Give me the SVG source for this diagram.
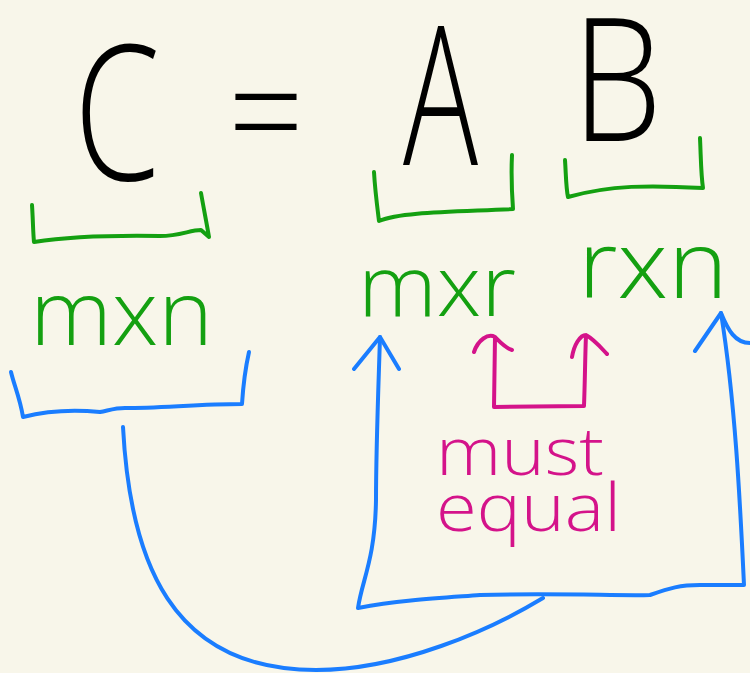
<svg xmlns="http://www.w3.org/2000/svg" width="750" height="673" viewBox="0 0 750 673">
<style>
.t{font-family:"Open Sans",Inter,"Liberation Sans",sans-serif;font-weight:300}
.k{fill:#000}
.g{fill:#14a011}
.m{fill:#d4138a}
.s{fill:none;stroke-width:4;stroke-linecap:round;stroke-linejoin:round}
.gs{stroke:#14a011}
.bs{stroke:#1a7dff}
.ms{stroke:#d4138a}
</style>
<rect width="750" height="673" fill="#f8f6ea"/>
<g id="equation">
<text class="t k" x="74" y="180" font-size="189" textLength="86" lengthAdjust="spacingAndGlyphs">C</text>
<text class="t k" x="228" y="165" font-size="150" textLength="76" lengthAdjust="spacingAndGlyphs">=</text>
<text class="t k" x="403" y="165" font-size="193" textLength="75" lengthAdjust="spacingAndGlyphs">A</text>
<text class="t k" x="572" y="141" font-size="172" textLength="90" lengthAdjust="spacingAndGlyphs">B</text>
</g>
<g id="dim-C">
<path class="s gs" d="M32,205 C33,220 33,232 34,242 C60,238 100,235 160,236 C180,236 190,230 201,230 L209,237 M201,193 C204,210 207,225 209,237"/>
<text class="t g" x="30" y="345" font-size="90" textLength="183" lengthAdjust="spacingAndGlyphs">mxn</text>
</g>
<g id="dim-A">
<path class="s gs" d="M374,172 C375,190 377,205 379,221 C400,212 450,212 513,209 M512,155 C511,175 512,195 513,209"/>
<text class="t g" x="358" y="316" font-size="84" textLength="158" lengthAdjust="spacingAndGlyphs">mxr</text>
</g>
<g id="dim-B">
<path class="s gs" d="M565,160 C566,175 566,188 568,197 C610,185 650,185 703,188 M700,138 C701,160 701,175 703,188"/>
<text class="t g" x="578" y="298" font-size="94" textLength="150" lengthAdjust="spacingAndGlyphs">rxn</text>
</g>
<g id="note">
<text class="t m" font-size="66"><tspan x="436" y="475" textLength="168" lengthAdjust="spacingAndGlyphs">must</tspan><tspan x="436" y="531" textLength="185" lengthAdjust="spacingAndGlyphs">equal</tspan></text>
</g>
<g id="connectors">
<path class="s bs" d="M11,372 C14,385 20,398 23,417 C50,410 80,410 100,412 C110,410 115,408 125,408 C160,408 200,404 242,404 M249,352 C245,370 243,388 242,404"/>
<path class="s bs" d="M123,427 C130,560 170,670 316,670 C400,670 490,630 543,598"/>
<path class="s bs" d="M380,337 C378,400 376,450 376,500 C375,560 362,580 358,608 C400,600 440,598 480,595 C560,593 620,596 650,595 C670,588 680,585 700,585 L744,585 C740,500 735,400 721,313"/>
<path class="s bs" d="M354,369 L380,337 L399,369 M695,351 L721,313 C728,330 735,343 750,343"/>
<path class="s ms" d="M495,337 L494,407 L584,406 C585,380 585,360 586,335 M474,352 C478,340 488,333 495,337 C500,342 505,348 512,350 M572,357 C574,345 580,335 586,335 C595,340 603,350 607,354"/>
</g>
</svg>
